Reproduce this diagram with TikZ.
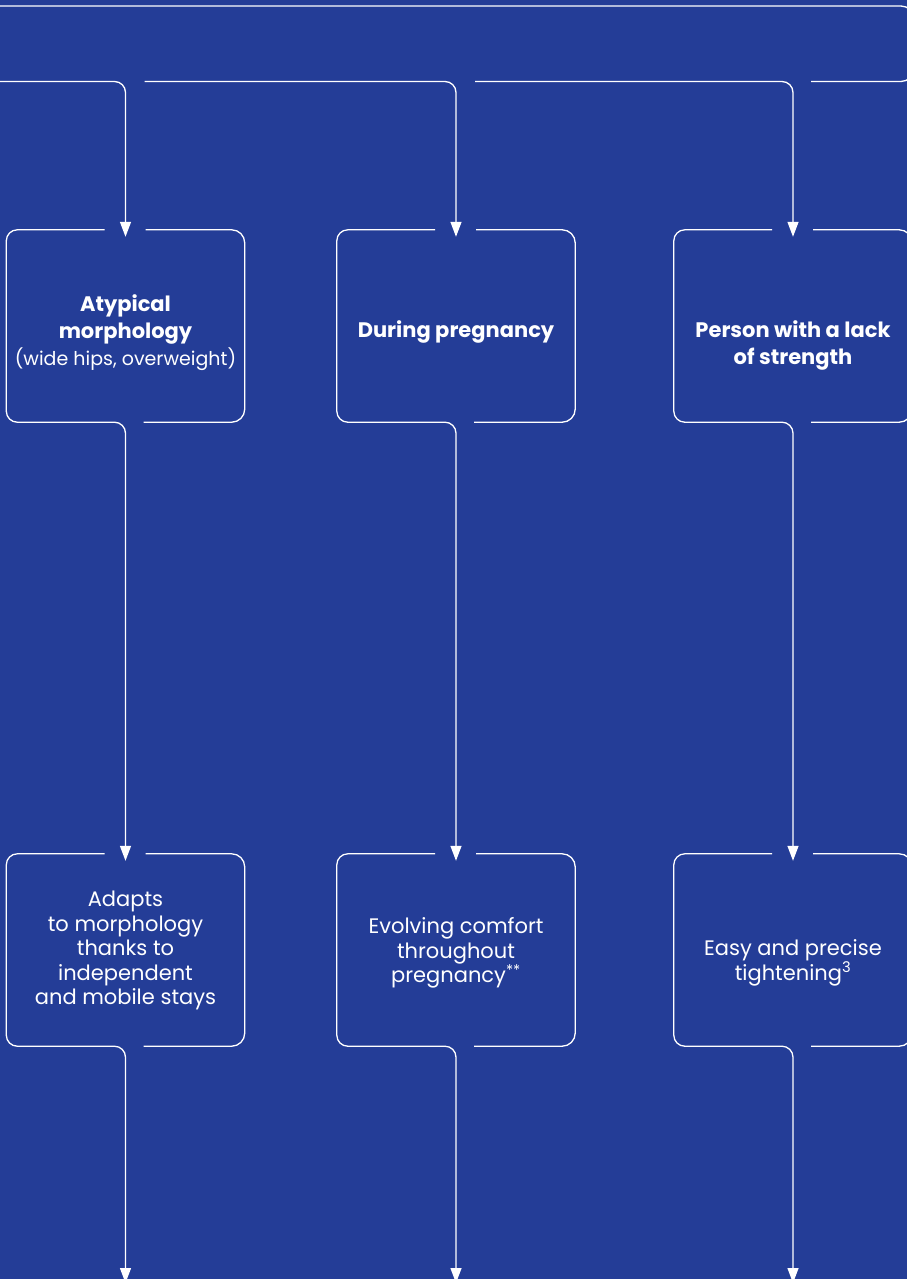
\documentclass[tikz,border=0pt]{standalone}
\usepackage{fontspec}
\setmainfont{Poppins}
\usepackage{tikz}
\usetikzlibrary{positioning,calc,arrows.meta}
\definecolor{navyblue}{RGB}{36,61,151}

\begin{document}
\begin{tikzpicture}[x=1pt, y=-1pt,
    line/.style={draw=white, line width=1.3pt, rounded corners=13pt},
    flow/.style={line, rounded corners=11pt, -{Triangle[width=11pt, length=15pt]}},
    box/.style={minimum width=238pt, minimum height=192pt, inner sep=0pt},
    title/.style={text=white, align=center, inner sep=0pt, font=\fontsize{21}{27}\selectfont\bfseries},
    body/.style={text=white, align=center, inner sep=0pt, font=\fontsize{21}{24.5}\selectfont}
]

% background and page frame
\fill[navyblue] (0,0) rectangle (907,1279);
\useasboundingbox (0,0) rectangle (907,1279);

% BOX POSITIONS
\node[box] (b1) at (125.5, 326) {};
\node[box] (b2) at (456, 326) {};
\node[box] (b3) at (793, 326) {};
\node[box] (c1) at (125.5, 950) {};
\node[box] (c2) at (456, 950) {};
\node[box] (c3) at (793, 950) {};

\coordinate (e1) at (125.5, 1283);
\coordinate (e2) at (456, 1283);
\coordinate (e3) at (793, 1283);

% TOP FRAME
\draw[line] (811, 81.5) -- (914, 81.5) -- (914, 6) -- (-20, 6);
\draw[flow] (-20, 81.5) -- (b1.north |- 0, 81.5) -- ($(b1.north)+(0,7)$);
\draw[flow] ($(b1.north |- 0, 81.5)+(19,0)$) -- (b2.north |- 0, 81.5) -- ($(b2.north)+(0,7)$);
\draw[flow] ($(b2.north |- 0, 81.5)+(19,0)$) -- (b3.north |- 0, 81.5) -- ($(b3.north)+(0,7)$);

% FIRST ROW
\draw[line] ($(b1.north)+(20,0)$) -- (b1.north east) -- (b1.south east) -- ($(b1.south)+(18,0)$);
\draw[flow] ($(b1.north)+(-21,0)$) -- (b1.north west) -- (b1.south west) -- (b1.south) -- ($(c1.north)+(0,7)$);
\draw[line] ($(b2.north)+(20,0)$) -- (b2.north east) -- (b2.south east) -- ($(b2.south)+(18,0)$);
\draw[flow] ($(b2.north)+(-21,0)$) -- (b2.north west) -- (b2.south west) -- (b2.south) -- ($(c2.north)+(0,7)$);
\draw[line] ($(b3.north)+(20,0)$) -- (b3.north east) -- (b3.south east) -- ($(b3.south)+(18,0)$);
\draw[flow] ($(b3.north)+(-21,0)$) -- (b3.north west) -- (b3.south west) -- (b3.south) -- ($(c3.north)+(0,7)$);

% SECOND ROW
\draw[line] ($(c1.north)+(20,0)$) -- (c1.north east) -- (c1.south east) -- ($(c1.south)+(18,0)$);
\draw[flow] ($(c1.north)+(-21,0)$) -- (c1.north west) -- (c1.south west) -- (c1.south) -- (e1);
\draw[line] ($(c2.north)+(20,0)$) -- (c2.north east) -- (c2.south east) -- ($(c2.south)+(18,0)$);
\draw[flow] ($(c2.north)+(-21,0)$) -- (c2.north west) -- (c2.south west) -- (c2.south) -- (e2);
\draw[line] ($(c3.north)+(20,0)$) -- (c3.north east) -- (c3.south east) -- ($(c3.south)+(18,0)$);
\draw[flow] ($(c3.north)+(-21,0)$) -- (c3.north west) -- (c3.south west) -- (c3.south) -- (e3);

% TEXTS
\node[title] (t1) at (125.5, 332.5) {Atypical\\morphology\\{\mdseries\fontsize{19}{27}\selectfont (wide hips, overweight)}};
\node[title] (t2) at (456, 332) {During pregnancy};
\node[title] (t3) at (793, 345.5) {Person with a lack\\of strength};

\node[body] (u1) at (125.5, 950.5) {Adapts\\to morphology\\thanks to\\independent\\and mobile stays};
\node[body] (u2) at (456, 953) {Evolving comfort\\throughout\\pregnancy\textsuperscript{**}};
\node[body] (u3) at (793, 963) {Easy and precise\\tightening\textsuperscript{3}};

\end{tikzpicture}
\end{document}
